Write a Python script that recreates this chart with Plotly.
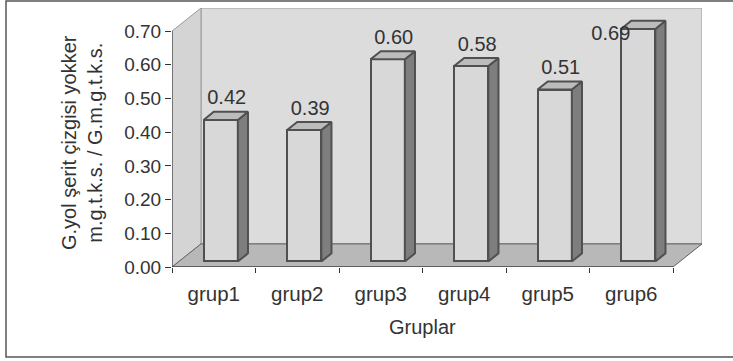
import plotly.graph_objects as go

# ---------------- data ----------------
categories = ["grup1", "grup2", "grup3", "grup4", "grup5", "grup6"]
values = [0.42, 0.39, 0.60, 0.58, 0.51, 0.69]
value_labels = ["0.42", "0.39", "0.60", "0.58", "0.51", "0.69"]
y_tick_values = [0.0, 0.1, 0.2, 0.3, 0.4, 0.5, 0.6, 0.7]
y_tick_labels = ["0.00", "0.10", "0.20", "0.30", "0.40", "0.50", "0.60", "0.70"]
x_title = "Gruplar"
y_title_lines = ["G.yol şerit çizgisi yokker", "m.g.t.k.s. / G.m.g.t.k.s."]

# ---------------- layout geometry ----------------
W, H = 733, 361
ML, MR, MT, MB = 172, 31, 8, 94
plot_w = W - ML - MR
plot_h = H - MT - MB
n = len(categories)
px_per_cat = 83.5
px_per_unit = 337.0
x_lo = -0.5
x_front_hi = n - 0.5
x_hi = x_lo + plot_w / px_per_cat
y_top = max(y_tick_values)
y_hi = plot_h / px_per_unit
DX = x_hi - x_front_hi          # full depth of the 3-D box in x units
DY = y_hi - y_top               # full depth in y units
f0, f1 = 0.24, 0.59             # bar front / back depth fractions
bar_w = 0.41

FONT = "Liberation Sans, Arial, sans-serif"
TXT = "#333333"
EDGE = "#505050"

def px_x(p):  # pixel -> paper
    return (p - ML) / plot_w

def px_y(p):
    return (H - MB - p) / plot_h

fig = go.Figure()

# ---------------- bars ----------------
xs = [i + f0 * DX for i in range(n)]
base = f0 * DY
fig.add_trace(go.Bar(
    x=xs, y=values, base=[base] * n, width=bar_w,
    marker=dict(color="#d8d8d8", line=dict(color=EDGE, width=2)),
    hoverinfo="skip", showlegend=False,
))

ddx = (f1 - f0) * DX
ddy = (f1 - f0) * DY
side_x, side_y, top_x, top_y = [], [], [], []
for xc, v in zip(xs, values):
    xl, xr = xc - bar_w / 2, xc + bar_w / 2
    yb, yt = base, base + v
    side_x += [xr, xr, xr + ddx, xr + ddx, xr, None]
    side_y += [yb, yt, yt + ddy, yb + ddy, yb, None]
    top_x += [xl, xr, xr + ddx, xl + ddx, xl, None]
    top_y += [yt, yt, yt + ddy, yt + ddy, yt, None]

fig.add_trace(go.Scatter(x=side_x, y=side_y, mode="lines", fill="toself",
                         fillcolor="#7e7e7e", line=dict(color=EDGE, width=2),
                         hoverinfo="skip", showlegend=False))
fig.add_trace(go.Scatter(x=top_x, y=top_y, mode="lines", fill="toself",
                         fillcolor="#bcbcbc", line=dict(color=EDGE, width=2),
                         hoverinfo="skip", showlegend=False))

# ---------------- value labels ----------------
lab_off = 26 / px_per_unit
lab_max = y_hi - 27 / px_per_unit
lab_x, lab_y = [], []
for i, v in enumerate(values):
    ly = v + lab_off
    lx = i + f0 * DX + 6 / px_per_cat
    if ly > lab_max:
        ly = lab_max
        lx -= 0.4
    lab_x.append(lx)
    lab_y.append(ly)
fig.add_trace(go.Scatter(x=lab_x, y=lab_y, mode="text", text=value_labels,
                         textfont=dict(family=FONT, size=20, color=TXT),
                         textposition="middle center",
                         hoverinfo="skip", showlegend=False))

# ---------------- 3-D box (walls and floor) ----------------
shapes = []
shapes.append(dict(type="rect", xref="x", yref="y", layer="below",
                   x0=x_lo + DX, x1=x_front_hi + DX, y0=DY, y1=y_top + DY,
                   fillcolor="#dcdcdc", line=dict(color="#9a9a9a", width=1)))
shapes.append(dict(type="path", xref="x", yref="y", layer="below",
                   path=f"M {x_lo},0 L {x_lo},{y_top} L {x_lo+DX},{y_top+DY} L {x_lo+DX},{DY} Z",
                   fillcolor="#d4d4d4", line=dict(color="#9a9a9a", width=1)))
shapes.append(dict(type="path", xref="x", yref="y", layer="below",
                   path=f"M {x_lo},0 L {x_front_hi},0 L {x_front_hi+DX},{DY} L {x_lo+DX},{DY} Z",
                   fillcolor="#b8b8b8", line=dict(color="#606060", width=1)))
# axis lines
shapes.append(dict(type="line", xref="x", yref="y", x0=x_lo, x1=x_lo, y0=0, y1=y_top,
                   line=dict(color="#333333", width=1)))
shapes.append(dict(type="line", xref="x", yref="y", x0=x_lo, x1=x_front_hi, y0=0, y1=0,
                   line=dict(color="#333333", width=1)))
# outer frame
shapes.append(dict(type="rect", xref="paper", yref="paper",
                   x0=px_x(6), x1=px_x(W + 10), y0=px_y(357), y1=px_y(1),
                   line=dict(color="#555555", width=1.5), fillcolor="rgba(0,0,0,0)"))

annotations = [
    dict(text=x_title, xref="paper", yref="paper", x=px_x(422.5), y=px_y(327),
         showarrow=False, font=dict(family=FONT, size=20, color=TXT),
         xanchor="center", yanchor="middle"),
    dict(text="<br>".join(y_title_lines), xref="paper", yref="paper",
         x=px_x(82), y=px_y(143), textangle=-90, showarrow=False,
         font=dict(family=FONT, size=20, color=TXT), xanchor="center", yanchor="middle"),
]

fig.update_layout(
    width=W, height=H,
    margin=dict(l=ML, r=MR, t=MT, b=MB, pad=0),
    paper_bgcolor="white", plot_bgcolor="rgba(0,0,0,0)",
    shapes=shapes, annotations=annotations,
    bargap=0, showlegend=False,
    xaxis=dict(range=[x_lo, x_hi], tickvals=list(range(n)), ticktext=categories,
               ticks="outside", ticklen=8, tickcolor="rgba(0,0,0,0)",
               showgrid=False, zeroline=False, showline=False,
               tickfont=dict(family=FONT, size=20.5, color=TXT), fixedrange=True),
    xaxis2=dict(range=[x_lo, x_hi], overlaying="x", anchor="y", side="bottom",
                tickvals=[k - 0.5 for k in range(n + 1)], showticklabels=False,
                ticks="outside", ticklen=5, tickcolor="#333333",
                showgrid=False, zeroline=False, showline=False, fixedrange=True),
    yaxis=dict(range=[0, y_hi], tickvals=y_tick_values, ticktext=y_tick_labels,
               ticks="outside", ticklen=6, tickcolor="#333333",
               showgrid=False, zeroline=False, showline=False,
               tickfont=dict(family=FONT, size=19, color=TXT), fixedrange=True),
)
# invisible trace so that the tick-only overlay axis is drawn
fig.add_trace(go.Scatter(x=[x_lo], y=[0], xaxis="x2", mode="markers",
                         marker=dict(opacity=0), hoverinfo="skip", showlegend=False))

fig.write_html("out.html")
